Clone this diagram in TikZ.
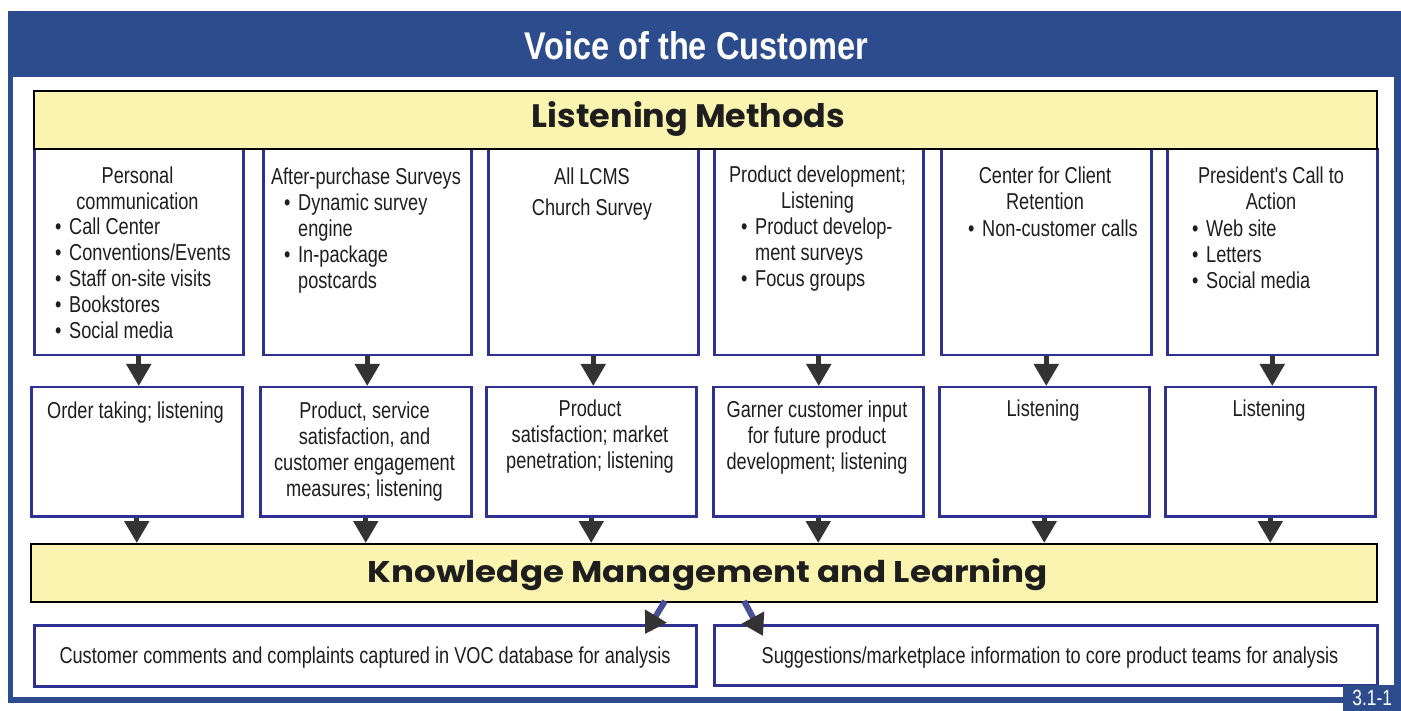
\documentclass[tikz,border=0pt]{standalone}
\usepackage{fontspec}
\usepackage{graphicx}
\usetikzlibrary{arrows.meta}
\setmainfont{Liberation Sans}
\newfontfamily\bodyfont[FakeStretch=0.79]{Liberation Sans}
\newfontfamily\geofont{Poppins}
\definecolor{frameblue}{HTML}{2D4C8D}
\definecolor{boxblue}{HTML}{2E3192}
\definecolor{bandyellow}{HTML}{FBF3B0}
\definecolor{arrowdark}{HTML}{333333}
\definecolor{diagblue}{HTML}{464F98}
\definecolor{inkdark}{HTML}{1E1E1E}
\newcommand{\bitem}{\makebox[14pt][l]{\textbullet}}
\newcommand{\bcont}{\hspace*{14pt}}
\begin{document}
\begin{tikzpicture}[x=1pt,y=-1pt,
  boxstyle/.style={draw=boxblue, line width=2.5pt, fill=white, inner sep=0pt, anchor=north west},
  bandstyle/.style={draw=black, line width=2pt, fill=bandyellow, inner sep=0pt, anchor=north west},
  txt/.style={font=\bodyfont\fontsize{23}{26}\selectfont, text=inkdark, inner sep=0pt},
  downarrow/.style={draw=arrowdark, line width=5pt, -{Triangle[width=24pt,length=22pt]}},
  diagarrow/.style={draw=diagblue, line width=6pt, -{Triangle[width=24pt,length=21pt,color=arrowdark]}}
]
\useasboundingbox (0,0) rectangle (1401,711);
% frame
\fill[frameblue] (8,11) rectangle (1401,703);
\fill[white] (13,77) rectangle (1394,697);
\node[anchor=base, text=white, inner sep=0pt] (title) at (696.5,60)
  {\resizebox{343pt}{28pt}{\bodyfont\bfseries Voice of the Customer}};

% top boxes
\node[boxstyle, minimum width=209pt, minimum height=206pt] (t1) at (33,148) {};
\node[boxstyle, minimum width=208pt, minimum height=206pt] (t2) at (262,148) {};
\node[boxstyle, minimum width=210pt, minimum height=206pt] (t3) at (487,148) {};
\node[boxstyle, minimum width=209pt, minimum height=206pt] (t4) at (713,148) {};
\node[boxstyle, minimum width=210pt, minimum height=206pt] (t5) at (940,148) {};
\node[boxstyle, minimum width=210pt, minimum height=206pt] (t6) at (1166,148) {};

% listening band
\node[bandstyle, minimum width=1343pt, minimum height=58pt] (lm) at (33,90) {};
\node[anchor=base, inner sep=0pt, text=inkdark] (lmt) at (688.5,128)
  {\resizebox{313pt}{26pt}{\geofont\bfseries Listening Methods}};

% top box texts
\node[txt, align=center, anchor=north] (h1) at (137.5,167) {Personal\\communication};
\node[txt, align=left, anchor=north west] (l1) at (55,218)
  {\bitem Call Center\\\bitem Conventions/Events\\\bitem Staff on-site visits\\\bitem Bookstores\\\bitem Social media};
\node[txt, align=center, anchor=north] (h2) at (366,168) {After-purchase Surveys};
\node[txt, align=left, anchor=north west] (l2) at (284,194)
  {\bitem Dynamic survey\\\bcont engine\\\bitem In-package\\\bcont postcards};
\node[txt, align=center, anchor=north] (h3) at (592,168) {All LCMS\\[5pt]Church Survey};
\node[txt, align=center, anchor=north] (h4) at (817.5,166) {Product development;\\Listening};
\node[txt, align=left, anchor=north west] (l4) at (741,218)
  {\bitem Product develop-\\\bcont ment surveys\\\bitem Focus groups};
\node[txt, align=center, anchor=north] (h5) at (1045,167) {Center for Client\\Retention};
\node[txt, align=left, anchor=north west] (l5) at (968,220) {\bitem Non-customer calls};
\node[txt, align=center, anchor=north] (h6) at (1271,167) {President's Call to\\Action};
\node[txt, align=left, anchor=north west] (l6) at (1192,220)
  {\bitem Web site\\\bitem Letters\\\bitem Social media};

% middle boxes
\node[boxstyle, minimum width=211pt, minimum height=129pt] (m1) at (30,386) {};
\node[boxstyle, minimum width=211pt, minimum height=129pt] (m2) at (259,386) {};
\node[boxstyle, minimum width=210pt, minimum height=129pt] (m3) at (485,386) {};
\node[boxstyle, minimum width=210pt, minimum height=129pt] (m4) at (712,386) {};
\node[boxstyle, minimum width=210pt, minimum height=129pt] (m5) at (938,386) {};
\node[boxstyle, minimum width=210pt, minimum height=129pt] (m6) at (1164,386) {};

\node[txt, align=center, anchor=north] (mt1) at (135.5,402) {Order taking; listening};
\node[txt, align=center, anchor=north] (mt2) at (364.5,402) {Product, service\\satisfaction, and\\customer engagement\\measures; listening};
\node[txt, align=center, anchor=north] (mt3) at (590,400) {Product\\satisfaction; market\\penetration; listening};
\node[txt, align=center, anchor=north] (mt4) at (817,401) {Garner customer input\\for future product\\development; listening};
\node[txt, align=center, anchor=north] (mt5) at (1043,400) {Listening};
\node[txt, align=center, anchor=north] (mt6) at (1269,400) {Listening};

% knowledge band
\node[bandstyle, minimum width=1346pt, minimum height=58pt] (km) at (30,543) {};
\node[anchor=base, inner sep=0pt, text=inkdark] (kmt) at (708,582)
  {\resizebox{680pt}{24pt}{\geofont\bfseries Knowledge Management and Learning}};

% bottom boxes
\node[boxstyle, minimum width=662pt, minimum height=61pt] (b1) at (33,624) {};
\node[boxstyle, minimum width=663pt, minimum height=60pt] (b2) at (713,624) {};
\node[txt, anchor=base] (bt1) at (365,663) {Customer comments and complaints captured in VOC database for analysis};
\node[txt, anchor=base] (bt2) at (1050,663) {Suggestions/marketplace information to core product teams for analysis};

% arrows top -> middle -> knowledge band
\foreach \i in {1,...,6}{
  \draw[downarrow] (t\i.south) -- (t\i.south |- m\i.north);
  \draw[downarrow] (m\i.south) -- (m\i.south |- km.north);
}

% diagonal arrows
\coordinate (da1) at (665,601);
\coordinate (de1) at (645,634);
\coordinate (da2) at (744,601);
\coordinate (de2) at (763,636);
\draw[diagarrow] (da1) -- (de1);
\draw[diagarrow] (da2) -- (de2);

% corner label
\node[fill=frameblue, text=white, inner sep=0pt, minimum width=58pt, minimum height=26pt, anchor=north west,
      font=\bodyfont\fontsize{22}{24}\selectfont] (tag) at (1343,685) {3.1-1};
\end{tikzpicture}
\end{document}
